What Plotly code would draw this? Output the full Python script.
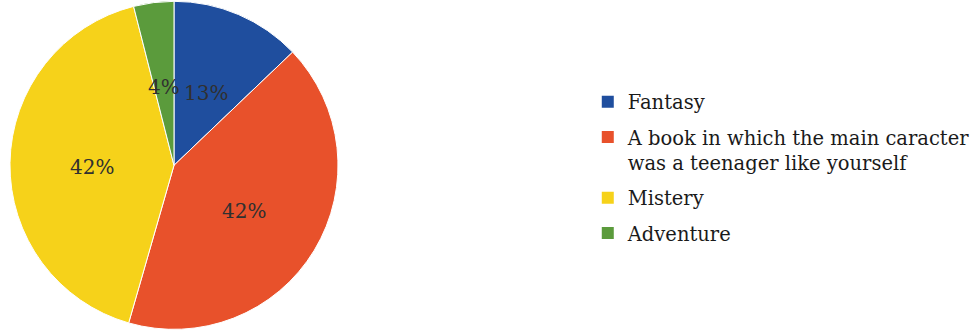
import math
import plotly.graph_objects as go

# Survey: favourite kind of book
categories = [
    "Fantasy",
    "A book in which the main caracter<br>was a teenager like yourself",
    "Mistery",
    "Adventure",
]
shares = [13, 42, 42, 4]  # percent
colors = ["#1F4E9E", "#E8512B", "#F6D21A", "#5B9B3C"]

FONT = "DejaVu Serif"
W, H = 978, 333

# pie placement (paper coordinates)
dom_x = [0.0102, 0.3456]
dom_y = [0.010, 0.997]

fig = go.Figure(
    go.Pie(
        labels=categories,
        values=shares,
        marker=dict(colors=colors, line=dict(color="white", width=1)),
        sort=False,
        direction="clockwise",
        rotation=0,
        textinfo="none",
        hoverinfo="label+percent",
        domain=dict(x=dom_x, y=dom_y),
        showlegend=False,
    )
)

# legend entries as separate groups so the spacing between them can be set
for cat, col in zip(categories, colors):
    fig.add_trace(
        go.Scatter(
            x=[None], y=[None], mode="markers",
            marker=dict(symbol="square", size=12, color=col),
            name=cat, legendgroup=cat, hoverinfo="skip",
        )
    )

# percentage labels placed halfway out along each slice's mid-angle
cx = (dom_x[0] + dom_x[1]) / 2 * W
cy = (dom_y[0] + dom_y[1]) / 2 * H
R = min((dom_x[1] - dom_x[0]) * W, (dom_y[1] - dom_y[0]) * H) / 2
total = sum(shares)
start = 0.0
for v in shares:
    mid = start + v / total * 360 / 2
    start += v / total * 360
    r = 0.5 * R
    px = cx + r * math.sin(math.radians(mid))
    py = cy + r * math.cos(math.radians(mid)) - 3
    fig.add_annotation(
        x=px / W, y=py / H, xref="paper", yref="paper",
        text=f"{v}%", showarrow=False,
        font=dict(family=FONT, size=20, color="#303030"),
        xanchor="center", yanchor="middle",
    )

fig.update_layout(
    width=W, height=H,
    margin=dict(l=0, r=0, t=0, b=0),
    paper_bgcolor="white",
    plot_bgcolor="white",
    xaxis=dict(visible=False),
    yaxis=dict(visible=False),
    showlegend=True,
    legend=dict(
        x=0.601, y=0.497, xanchor="left", yanchor="middle",
        font=dict(family=FONT, size=19.5, color="#1a1a1a"),
        bgcolor="rgba(0,0,0,0)",
        traceorder="grouped",
        tracegroupgap=7,
        valign="top",
    ),
)

fig.write_html("out.html")
